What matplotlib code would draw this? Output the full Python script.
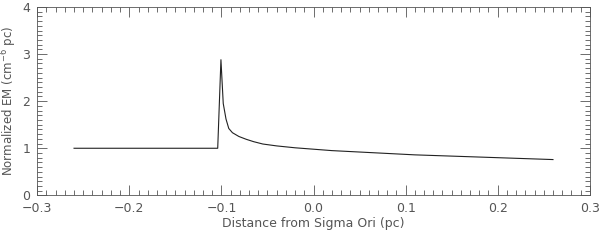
import matplotlib
matplotlib.use("Agg")
import matplotlib.pyplot as plt
from matplotlib.ticker import MultipleLocator

# profile
distance = [-0.26, -0.104, -0.1005, -0.098, -0.095, -0.092, -0.088, -0.081,
            -0.073, -0.065, -0.055, -0.04, -0.02, 0.0, 0.02, 0.05, 0.08,
            0.11, 0.14, 0.17, 0.20, 0.23, 0.26]
norm_em = [1.0, 1.0, 2.88, 1.95, 1.62, 1.42, 1.33, 1.25,
           1.19, 1.14, 1.09, 1.05, 1.01, 0.98, 0.95, 0.92, 0.89,
           0.86, 0.84, 0.82, 0.80, 0.78, 0.76]

text_color = "#555555"
plt.rcParams["font.family"] = ["DejaVu Sans"]

fig = plt.figure(figsize=(6, 2.4), dpi=100)
ax = fig.add_axes([0.062, 0.186, 0.921, 0.785])

ax.plot(distance, norm_em, color="#222222", linewidth=0.8)

ax.set_xlim(-0.3, 0.3)
ax.set_ylim(0, 4)
ax.xaxis.set_major_locator(MultipleLocator(0.1))
ax.xaxis.set_minor_locator(MultipleLocator(0.01))
ax.yaxis.set_major_locator(MultipleLocator(1))
ax.yaxis.set_minor_locator(MultipleLocator(0.1))
ax.xaxis.set_major_formatter(plt.FuncFormatter(lambda v, p: f"{v:.1f}".replace("-", "\u2212")))

ax.tick_params(which="both", direction="in", top=True, right=True,
               color=text_color, labelcolor=text_color, labelsize=9, width=0.6)
ax.tick_params(which="major", length=7, pad=5)
ax.tick_params(which="minor", length=3.5)
for s in ax.spines.values():
    s.set_color(text_color)
    s.set_linewidth(0.6)

ax.set_xlabel("Distance from Sigma Ori (pc)", color=text_color, fontsize=9, labelpad=1)
ax.set_ylabel("Normalized EM (cm$^{-6}$ pc)", color=text_color, fontsize=8.5, labelpad=2)

fig.savefig("out.png", dpi=100)
